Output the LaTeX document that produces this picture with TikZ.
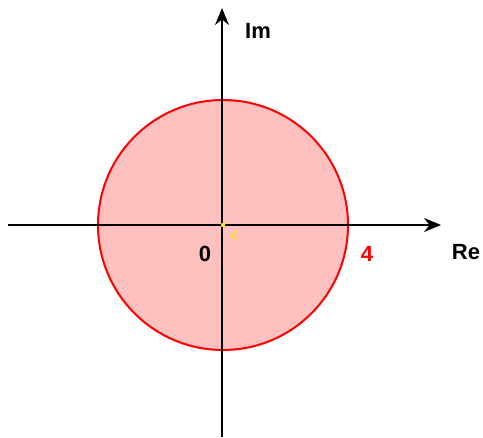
\documentclass[tikz,border=0pt]{standalone}
\usepackage{fontspec}
\setmainfont{Liberation Sans}
\usetikzlibrary{arrows.meta}
\definecolor{circfill}{RGB}{255,192,192}
\definecolor{marky}{RGB}{255,230,0}
\tikzset{
  axis/.style={line width=1.5pt, -{Stealth[length=17*0.75pt,width=14*0.75pt]}},
  lab/.style={font=\bfseries\fontsize{16.5}{19}\selectfont, inner sep=0pt},
}
\begin{document}
\begin{tikzpicture}[x=0.75pt,y=-0.75pt]
\useasboundingbox (0,0) rectangle (483,437);
\node[circle, draw=red, line width=1.5pt, fill=circfill, minimum size=250*0.75pt, inner sep=0pt] (disk) at (223,225) {};
\coordinate (xs) at (8,225);
\coordinate (xe) at (441,225);
\coordinate (ys) at (222,437);
\coordinate (ye) at (222,8);
\draw[axis] (xs) -- (xe);
\draw[axis] (ys) -- (ye);
\fill[marky] (223,225) circle (2.2*0.75pt);
\node[text=marky, font=\fontsize{11}{12}\selectfont, inner sep=0pt] (c) at (235,236) {c};
\node[lab] (im) at (258,31) {Im};
\node[lab] (re) at (466,252) {Re};
\node[lab] (zero) at (205,254) {0};
\node[lab, text=red] (four) at (367,254) {4};
\end{tikzpicture}
\end{document}
